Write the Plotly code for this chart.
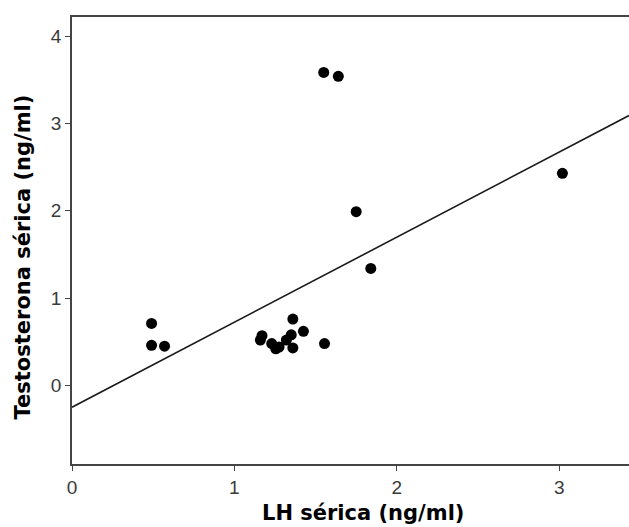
import plotly.graph_objects as go

# Data
lh = [0.49, 0.49, 0.57, 1.17, 1.16, 1.23, 1.255, 1.275, 1.32, 1.35, 1.36, 1.36,
      1.425, 1.555, 1.55, 1.64, 1.75, 1.84, 3.02]
testo = [0.71, 0.46, 0.45, 0.57, 0.52, 0.48, 0.42, 0.44, 0.52, 0.58, 0.76, 0.43,
         0.62, 0.48, 3.585, 3.54, 1.99, 1.34, 2.43]

fit_intercept = -0.25
fit_slope = 0.974
x_range = [0, 3.43]
y_range = [-0.9, 4.22]
line_x = [x_range[0], x_range[1]]
line_y = [fit_intercept + fit_slope * v for v in line_x]

x_ticks = [0, 1, 2, 3]
y_ticks = [0, 1, 2, 3, 4]

x_title = "LH sérica (ng/ml)"
y_title = "Testosterona sérica (ng/ml)"

title_font = dict(family="DejaVu Sans, Verdana, sans-serif", size=21,
                  color="black", weight="bold")

fig = go.Figure()
fig.add_trace(go.Scatter(x=line_x, y=line_y, mode="lines",
                         line=dict(color="#1a1a1a", width=1.6),
                         showlegend=False, hoverinfo="skip"))
fig.add_trace(go.Scatter(x=lh, y=testo, mode="markers",
                         marker=dict(color="black", size=11),
                         showlegend=False))

fig.update_layout(
    width=629, height=527,
    margin=dict(l=72, r=0, t=17, b=63),
    paper_bgcolor="white", plot_bgcolor="white",
    font=dict(family="Liberation Sans, Arial, sans-serif", color="#3a3a3a", size=19),
    xaxis=dict(range=x_range, tickvals=x_ticks, ticks="outside", ticklen=5,
               tickcolor="#444", showgrid=False, zeroline=False,
               showline=True, linecolor="#444", linewidth=1.6, mirror=True,
               automargin=False),
    yaxis=dict(range=y_range, tickvals=y_ticks, ticks="outside", ticklen=5,
               tickcolor="#444", showgrid=False, zeroline=False,
               showline=True, linecolor="#444", linewidth=1.6,
               automargin=False),
    annotations=[
        dict(text=x_title, xref="paper", yref="paper", x=0.522, y=0,
             xanchor="center", yanchor="middle", yshift=-49,
             showarrow=False, font=title_font),
        dict(text=y_title, xref="paper", yref="paper", x=0, y=0.462,
             xanchor="center", yanchor="middle", xshift=-49, textangle=-90,
             showarrow=False, font=title_font),
    ],
)

fig.write_html("out.html", config={"displayModeBar": False},
               post_script="document.body.style.margin='0';document.body.style.overflow='hidden';")
